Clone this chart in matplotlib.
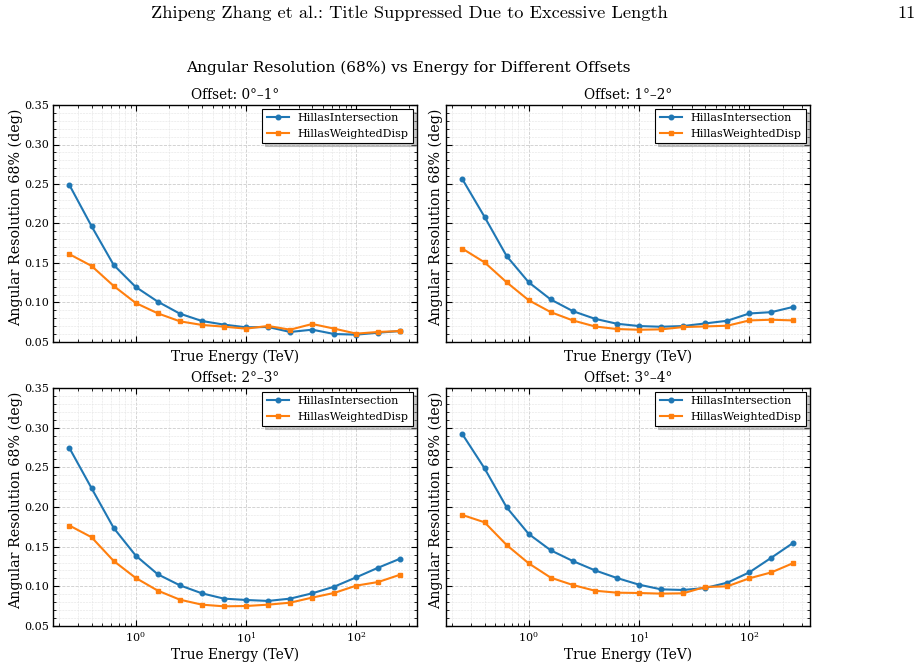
import numpy as np
import matplotlib
matplotlib.use("Agg")
import matplotlib.pyplot as plt
from matplotlib.ticker import AutoMinorLocator

plt.rcParams['font.family'] = ['DejaVu Serif']
plt.rcParams['mathtext.fontset'] = 'dejavuserif'

energy = [0.251, 0.398, 0.631, 1.0, 1.585, 2.512, 3.981, 6.310,
          10.0, 15.85, 25.12, 39.81, 63.10, 100.0, 158.5, 251.2]

offsets = ["Offset: 0°–1°", "Offset: 1°–2°", "Offset: 2°–3°", "Offset: 3°–4°"]

intersection_0_1 = [0.2486, 0.1966, 0.1476, 0.1197, 0.1011, 0.0859, 0.0766, 0.0720,
                    0.0686, 0.0690, 0.0627, 0.0656, 0.0601, 0.0593, 0.0618, 0.0639]
weighted_0_1 = [0.1611, 0.1463, 0.1210, 0.0994, 0.0863, 0.0762, 0.0716, 0.0694,
                0.0669, 0.0703, 0.0656, 0.0728, 0.0669, 0.0606, 0.0627, 0.0639]

intersection_1_2 = [0.2559, 0.2084, 0.1588, 0.1256, 0.1038, 0.0891, 0.0794, 0.0731,
                    0.0702, 0.0693, 0.0702, 0.0735, 0.0769, 0.0861, 0.0878, 0.0945]
weighted_1_2 = [0.1681, 0.1508, 0.1256, 0.1029, 0.0878, 0.0773, 0.0697, 0.0664,
                0.0655, 0.0660, 0.0689, 0.0697, 0.0706, 0.0773, 0.0782, 0.0773]

intersection_2_3 = [0.2742, 0.2237, 0.1737, 0.1388, 0.1152, 0.1013, 0.0912, 0.0845,
                    0.0828, 0.0816, 0.0845, 0.0912, 0.0996, 0.1114, 0.1236, 0.1350]
weighted_2_3 = [0.1766, 0.1619, 0.1320, 0.1106, 0.0946, 0.0832, 0.0769, 0.0748,
                0.0752, 0.0769, 0.0794, 0.0858, 0.0917, 0.1009, 0.1055, 0.1148]

intersection_3_4 = [0.2916, 0.2487, 0.1996, 0.1660, 0.1454, 0.1319, 0.1202, 0.1105,
                    0.1021, 0.0962, 0.0954, 0.0979, 0.1046, 0.1176, 0.1361, 0.1550]
weighted_3_4 = [0.1899, 0.1807, 0.1521, 0.1290, 0.1109, 0.1017, 0.0945, 0.0920,
                0.0916, 0.0908, 0.0912, 0.0992, 0.1000, 0.1101, 0.1176, 0.1294]

intersection = [intersection_0_1, intersection_1_2, intersection_2_3, intersection_3_4]
weighted = [weighted_0_1, weighted_1_2, weighted_2_3, weighted_3_4]

fig = plt.figure(figsize=(9.23, 6.65), dpi=100)

# axes boxes in pixels (left, top, right, bottom)
W, H = 923, 665
boxes = [(53, 105, 417, 342), (446, 105, 810, 342),
         (53, 388, 417, 626), (446, 388, 810, 626)]

axes = []
for x0, y0, x1, y1 in boxes:
    ax = fig.add_axes([x0 / W, 1 - y1 / H, (x1 - x0) / W, (y1 - y0) / H])
    axes.append(ax)

for i, ax in enumerate(axes):
    ax.plot(energy, intersection[i], marker='o', markersize=3.3, lw=1.5,
            color='#1f77b4', label='HillasIntersection')
    ax.plot(energy, weighted[i], marker='s', markersize=3.3, lw=1.5,
            color='#ff7f0e', label='HillasWeightedDisp')
    ax.set_xscale('log')
    ax.set_xlim(0.178, 355)
    ax.set_ylim(0.05, 0.35)
    ax.yaxis.set_minor_locator(AutoMinorLocator(5))
    ax.set_title(offsets[i], fontsize=9.8, pad=4)
    ax.set_xlabel('True Energy (TeV)', fontsize=9.9, labelpad=2)
    ax.set_ylabel('Angular Resolution 68% (deg)', fontsize=10.3)
    if i % 2 == 0:
        ax.yaxis.set_label_coords(-0.083, 0.527)
    else:
        ax.yaxis.set_label_coords(-0.008, 0.527)
    ax.grid(True, which='major', ls='--', lw=0.6, color='#cccccc')
    ax.grid(True, which='minor', ls='--', lw=0.4, color='#e3e3e3')
    ax.tick_params(which='both', direction='in', top=True, right=True, labelsize=8)
    ax.tick_params(which='major', length=4, pad=3)
    ax.tick_params(which='minor', length=2)
    for s in ax.spines.values():
        s.set_linewidth(1.0)
    leg = ax.legend(loc='upper right', fontsize=8, frameon=True, fancybox=False,
                    edgecolor='black', framealpha=1,
                    shadow={'color': '0.55', 'alpha': 0.45},
                    borderaxespad=0.35)
    leg.get_frame().set_linewidth(0.8)
    if i < 2:
        ax.tick_params(labelbottom=False)
    if i % 2 == 1:
        ax.tick_params(labelleft=False)

fig.text(0.442, 0.898, 'Angular Resolution (68%) vs Energy for Different Offsets',
         ha='center', va='center', fontsize=11.1)
fig.text(0.443, 0.980, 'Zhipeng Zhang et al.: Title Suppressed Due to Excessive Length',
         ha='center', va='center', fontsize=13.2, family='cmr10')
fig.text(0.992, 0.980, '11', ha='right', va='center', fontsize=13.2, family='cmr10')

fig.savefig('out.png', dpi=100)
